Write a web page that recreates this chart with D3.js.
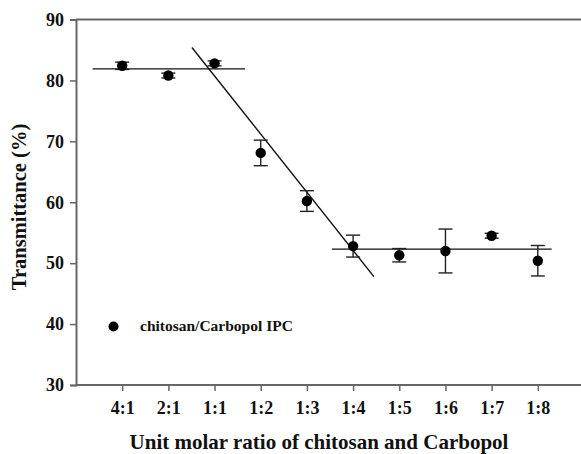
<!DOCTYPE html>
<html><head><meta charset="utf-8">
<script src="https://cdn.jsdelivr.net/npm/d3@7"></script>
<style>
html,body{margin:0;padding:0;background:#fff;}
svg{display:block;}
text{font-family:"Liberation Serif","Times New Roman",serif;font-weight:bold;fill:#111;}
</style></head>
<body>
<svg id="chart" width="581" height="454"></svg>
<script>
const categories = ["4:1","2:1","1:1","1:2","1:3","1:4","1:5","1:6","1:7","1:8"];
const values = [82.4, 80.8, 82.8, 68.1, 60.2, 52.8, 51.3, 52.0, 54.5, 50.4];
const errors = [0.6, 0.4, 0.4, 2.1, 1.7, 1.8, 1.1, 3.6, 0.4, 2.5];
const yTicks = [30, 40, 50, 60, 70, 80, 90];
const fitHigh = [[-0.64, 81.9], [2.66, 81.9]];
const fitSlope = [[1.51, 85.4], [5.45, 47.8]];
const fitLow = [[4.54, 52.3], [9.30, 52.3]];
const legendLabel = "chitosan/Carbopol IPC";
const xTitle = "Unit molar ratio of chitosan and Carbopol";
const yTitle = "Transmittance (%)";

const svg = d3.select("#chart");
const x = d3.scaleLinear().domain([-1, 10]).range([76, 584]);
const y = d3.scaleLinear().domain([30, 90]).range([385, 19.5]);
const axisColor = "#666";

// frame top line
svg.append("line").attr("x1", x(-1)).attr("x2", x(10)).attr("y1", y(90)).attr("y2", y(90))
  .attr("stroke", axisColor).attr("stroke-width", 2);

// y axis
const yAxis = svg.append("g").attr("transform", `translate(${x(-1)},0)`)
  .call(d3.axisLeft(y).tickValues(yTicks).tickSize(6).tickPadding(6).tickFormat(d3.format("d")));
yAxis.select(".domain").attr("stroke", axisColor).attr("stroke-width", 2);
yAxis.selectAll(".tick line").attr("stroke", axisColor).attr("stroke-width", 1.5);
yAxis.selectAll(".tick text").attr("font-size", 18).attr("fill", "#111")
  .attr("font-family", '"Liberation Serif","Times New Roman",serif').attr("font-weight", "bold");

// x axis
const xAxis = svg.append("g").attr("transform", `translate(0,${y(30)})`)
  .call(d3.axisBottom(x).tickValues(d3.range(categories.length)).tickSize(6).tickPadding(10)
    .tickFormat(i => categories[i]));
xAxis.select(".domain").attr("stroke", axisColor).attr("stroke-width", 2).attr("d", `M${x(-1)},0H${x(10)}`);
xAxis.selectAll(".tick line").attr("stroke", axisColor).attr("stroke-width", 1.5);
xAxis.selectAll(".tick text").attr("font-size", 18).attr("fill", "#111")
  .attr("font-family", '"Liberation Serif","Times New Roman",serif').attr("font-weight", "bold");

// fit lines
const line = d3.line().x(d => x(d[0])).y(d => y(d[1]));
[fitHigh, fitSlope, fitLow].forEach(seg => {
  svg.append("path").attr("d", line(seg)).attr("fill", "none")
    .attr("stroke", "#111").attr("stroke-width", 1.4);
});

// error bars
const eb = svg.append("g").attr("stroke", "#222").attr("stroke-width", 1.4);
values.forEach((v, i) => {
  const cx = x(i), e = errors[i];
  eb.append("line").attr("x1", cx).attr("x2", cx).attr("y1", y(v + e)).attr("y2", y(v - e));
  eb.append("line").attr("x1", cx - 7).attr("x2", cx + 7).attr("y1", y(v + e)).attr("y2", y(v + e));
  eb.append("line").attr("x1", cx - 7).attr("x2", cx + 7).attr("y1", y(v - e)).attr("y2", y(v - e));
});

// points
svg.append("g").selectAll("circle").data(values).join("circle")
  .attr("cx", (d, i) => x(i)).attr("cy", d => y(d)).attr("r", 5.2).attr("fill", "#000");

// legend
svg.append("circle").attr("cx", 113.5).attr("cy", 326.5).attr("r", 5).attr("fill", "#000");
svg.append("text").attr("x", 140).attr("y", 331).attr("font-size", 15.5).text(legendLabel);

// axis titles
svg.append("text").attr("x", 319).attr("y", 449).attr("text-anchor", "middle")
  .attr("font-size", 21).text(xTitle);
svg.append("text").attr("transform", "translate(26,207) rotate(-90)").attr("text-anchor", "middle")
  .attr("font-size", 20.5).text(yTitle);
</script>
</body></html>
